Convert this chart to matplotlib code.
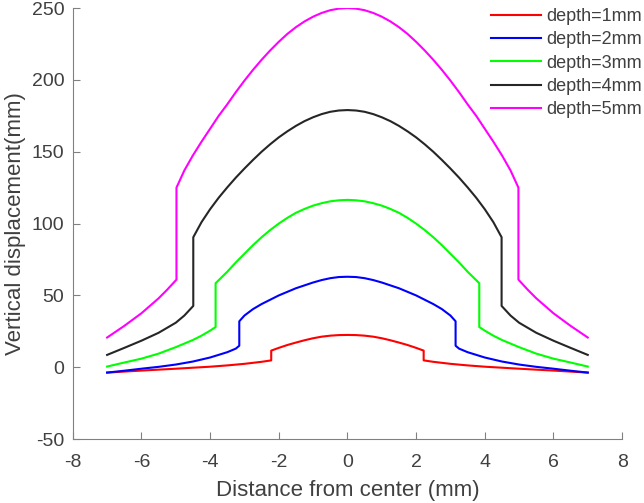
import numpy as np
import matplotlib
matplotlib.use('Agg')
import matplotlib.pyplot as plt

plt.rcParams['font.family'] = ['Liberation Sans', 'DejaVu Sans']
plt.rcParams['axes.unicode_minus'] = False

# right half of each curve (x >= 0); curves are symmetric
x1 = [0, 0.25, 0.5, 0.75, 1, 1.25, 1.5, 1.75, 2, 2.22,
      2.22, 2.5, 3, 3.5, 4, 5, 6, 7]
y1 = [22.5, 22.4, 22, 21.3, 20.2, 18.8, 17.2, 15.5, 13.5, 11.6,
      4.8, 3.8, 2.4, 1.3, 0.4, -1.0, -2.3, -3.7]

x2 = [0, 0.25, 0.5, 0.75, 1, 1.25, 1.5, 1.75, 2, 2.25, 2.5, 2.75, 3, 3.15,
      3.15, 3.25, 3.5, 4, 4.5, 5, 5.5, 6, 6.5, 7]
y2 = [63, 62.8, 62, 60.7, 59, 57, 55, 52.5, 50, 47, 44, 40.5, 36, 32,
      15, 13, 10.5, 6.8, 4, 1.9, 0.3, -1.0, -2.4, -3.7]

x3 = [0, 0.25, 0.5, 0.75, 1, 1.25, 1.5, 1.75, 2, 2.25, 2.5, 2.75, 3, 3.25, 3.5, 3.84,
      3.84, 4, 4.25, 4.5, 5, 5.5, 6, 6.5, 7]
y3 = [116.5, 116.2, 115.5, 114.2, 112.5, 110.2, 107.5, 104, 100, 95.5, 90.5, 85, 79, 73, 66.5, 58.5,
      28, 25.5, 22, 19, 14, 9.5, 6, 3.3, 0.5]

x4 = [0, 0.25, 0.5, 0.75, 1, 1.25, 1.5, 1.75, 2, 2.25, 2.5, 2.75, 3, 3.25, 3.5, 3.75, 4, 4.25, 4.49,
      4.49, 4.75, 5, 5.5, 6, 6.5, 7]
y4 = [179, 178.7, 177.8, 176.2, 174, 171.3, 168, 164.2, 160, 155.2, 150, 144.3, 138.3, 132, 125.2, 118, 110, 101, 90.5,
      42.7, 36, 31, 24, 18.5, 13.5, 8.6]

x5 = [0, 0.25, 0.5, 0.75, 1, 1.25, 1.5, 1.75, 2, 2.25, 2.5, 2.75, 3, 3.25, 3.5, 3.75, 4, 4.25, 4.5, 4.75, 4.98,
      4.98, 5.25, 5.5, 6, 6.5, 7]
y5 = [250, 249.6, 248.5, 246.6, 244, 240.7, 236.7, 232, 226.5, 220.5, 214, 207, 199.5, 191.5, 183, 175, 166, 157, 147.5, 137, 125,
      61, 54, 48, 37.6, 28.8, 20.7]

labels = ['depth=1mm', 'depth=2mm', 'depth=3mm', 'depth=4mm', 'depth=5mm']
colors = ['#ff0000', '#0000ff', '#00ff00', '#262626', '#ff00ff']


def full(xs, ys):
    xs = np.array(xs)
    ys = np.array(ys)
    return np.concatenate([-xs[::-1], xs[1:]]), np.concatenate([ys[::-1], ys[1:]])


fig = plt.figure(figsize=(6.44, 5.03), dpi=100)
ax = fig.add_axes([0.113, 0.127, 0.853, 0.857])

for xs, ys, lab, c in zip([x1, x2, x3, x4, x5], [y1, y2, y3, y4, y5], labels, colors):
    X, Y = full(xs, ys)
    ax.plot(X, Y, color=c, linewidth=1.5, label=lab)

ax.set_xlim(-8, 8)
ax.set_ylim(-50, 250)
ax.set_xticks(range(-8, 9, 2))
ax.set_yticks(range(-50, 251, 50))

gray = '#808080'
txt = '#404040'
for s in ['top', 'right']:
    ax.spines[s].set_visible(False)
for s in ['left', 'bottom']:
    ax.spines[s].set_color(gray)
ax.tick_params(direction='in', length=5, color=gray, labelcolor=txt, labelsize=14)
ax.tick_params(axis='x', pad=11)
ax.tick_params(axis='y', pad=6)

ax.set_xlabel('Distance from center (mm)', fontsize=16, color=txt, labelpad=6)
ax.set_ylabel('Vertical displacement(mm)', fontsize=16, color=txt)

leg = ax.legend(loc='upper right', frameon=False, fontsize=13,
                handlelength=2.77, handletextpad=0.28, labelspacing=0.35,
                borderaxespad=0.0, bbox_to_anchor=(1.049, 1.017))
for t in leg.get_texts():
    t.set_color(txt)

fig.savefig('out.png', dpi=100)
